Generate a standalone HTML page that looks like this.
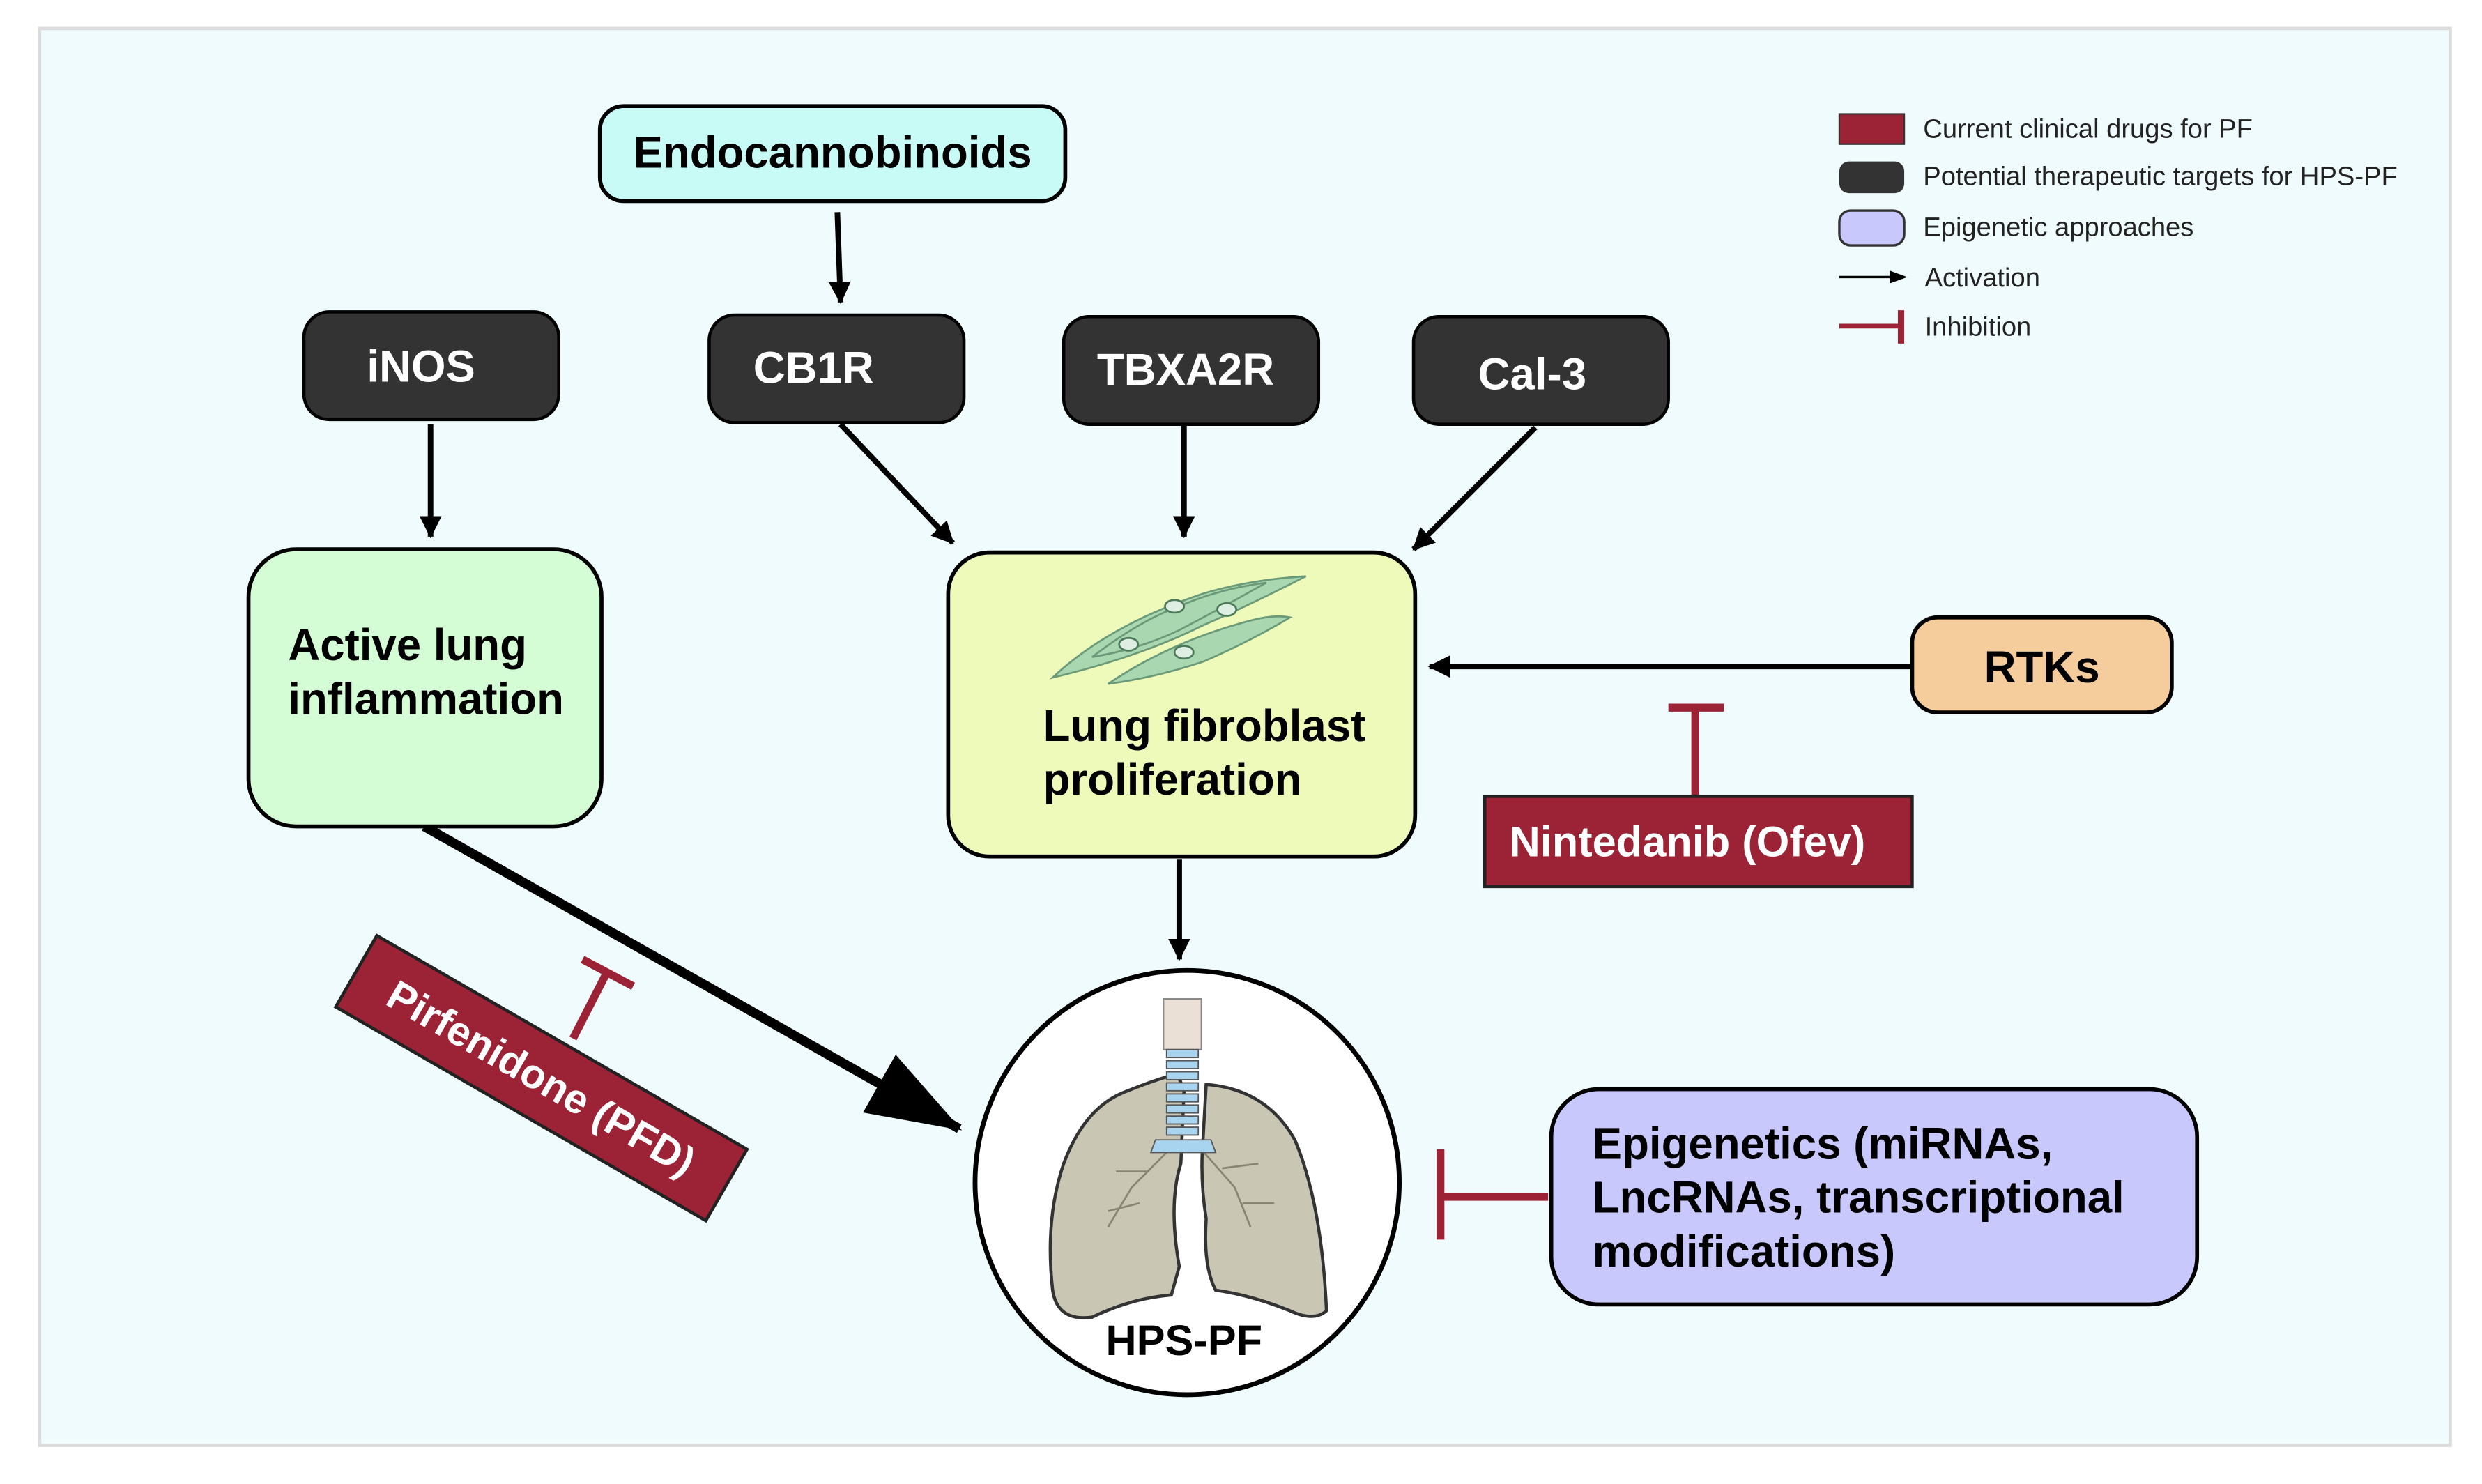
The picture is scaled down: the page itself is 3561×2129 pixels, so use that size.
<!DOCTYPE html>
<html><head><meta charset="utf-8"><style>
html,body{margin:0;padding:0;background:#fff;}
svg{display:block;}
text{font-family:"Liberation Sans",Arial,sans-serif;}
</style></head><body>
<svg width="3561" height="2129" viewBox="0 0 1568 937.4" preserveAspectRatio="none" xmlns="http://www.w3.org/2000/svg">
<defs>
<marker id="ah" viewBox="0 0 14 14" markerWidth="14" markerHeight="14" refX="13" refY="7" orient="auto" markerUnits="userSpaceOnUse"><path d="M0,0 L14,7 L0,14 Z" fill="#000"/></marker>
<marker id="ab" viewBox="0 0 60 42" markerWidth="60" markerHeight="42" refX="58" refY="21" orient="auto" markerUnits="userSpaceOnUse"><path d="M0,0 L60,21 L0,42 Z" fill="#000"/></marker>
</defs>
<rect x="0" y="0" width="1568" height="937.4" fill="#fff"/>
<rect x="25" y="18" width="1523" height="895" fill="#effbfc" stroke="#dcdcdc" stroke-width="2"/>

<!-- legend -->
<rect x="1162" y="72" width="41" height="19" fill="#9b2335" stroke="#333" stroke-width="1"/>
<rect x="1162" y="102" width="41" height="20" rx="6" fill="#333"/>
<rect x="1162" y="133" width="41" height="22" rx="7" fill="#c8c8fd" stroke="#333" stroke-width="1.5"/>
<line x1="1162" y1="175" x2="1196" y2="175" stroke="#000" stroke-width="1.5"/>
<path d="M1194,171 L1205,175 L1194,179 Z" fill="#000"/>
<line x1="1162" y1="206" x2="1200" y2="206" stroke="#9b2335" stroke-width="3"/>
<line x1="1201" y1="196" x2="1201" y2="217" stroke="#9b2335" stroke-width="4"/>
<g font-size="16.8" fill="#222">
<text x="1215" y="87">Current clinical drugs for PF</text>
<text x="1215" y="117">Potential therapeutic targets for HPS-PF</text>
<text x="1215" y="149">Epigenetic approaches</text>
<text x="1216" y="181">Activation</text>
<text x="1216" y="212">Inhibition</text>
</g>

<!-- connectors -->
<g stroke="#000" stroke-width="3.5" fill="none" marker-end="url(#ah)">
<line x1="529" y1="134" x2="531" y2="191"/>
<line x1="272" y1="268" x2="272" y2="339"/>
<line x1="531" y1="268" x2="602" y2="343"/>
<line x1="748" y1="269" x2="748" y2="339"/>
<line x1="970" y1="270" x2="893" y2="347"/>
<line x1="1208" y1="421" x2="903" y2="421"/>
<line x1="745" y1="543" x2="745" y2="606"/>
</g>
<line x1="268" y1="522" x2="606" y2="713" stroke="#000" stroke-width="6" marker-end="url(#ab)"/>

<!-- boxes -->
<rect x="379" y="67" width="294" height="60" rx="15" fill="#c8fbf5" stroke="#000" stroke-width="2.5"/>
<text x="526" y="106" font-size="28" font-weight="bold" text-anchor="middle">Endocannobinoids</text>

<g fill="#333" stroke="#000" stroke-width="2">
<rect x="192" y="197" width="161" height="68" rx="16"/>
<rect x="448" y="199" width="161" height="68" rx="16"/>
<rect x="672" y="200" width="161" height="68" rx="16"/>
<rect x="893" y="200" width="161" height="68" rx="16"/>
</g>
<g fill="#fff" font-size="28" font-weight="bold" text-anchor="middle">
<text x="266" y="241">iNOS</text>
<text x="514" y="242">CB1R</text>
<text x="749" y="243">TBXA2R</text>
<text x="968" y="246">Cal-3</text>
</g>

<rect x="157" y="347" width="223" height="175" rx="30" fill="#d5fdd5" stroke="#000" stroke-width="2.5"/>
<text x="182" y="417" font-size="28" font-weight="bold">Active lung</text>
<text x="182" y="451" font-size="28" font-weight="bold">inflammation</text>

<rect x="599" y="349" width="295" height="192" rx="26" fill="#eefaba" stroke="#000" stroke-width="2.5"/>
<text x="659" y="468" font-size="28" font-weight="bold">Lung fibroblast</text>
<text x="659" y="502" font-size="28" font-weight="bold">proliferation</text>
<!-- fibroblast cells -->
<g fill="#a9d8b0" stroke="#6b9a78" stroke-width="1.2">
<path d="M665,428 Q700,395 760,375 Q790,366 825,364 Q790,382 760,395 Q720,415 665,428 Z"/>
<path d="M700,432 Q740,405 790,392 Q805,388 815,390 Q790,405 760,418 Q730,428 700,432 Z"/>
<path d="M690,415 Q720,392 745,383 Q770,372 800,368 Q770,385 745,398 Q720,410 690,415 Z"/>
</g>
<g fill="#dfeee2" stroke="#4d7a5a" stroke-width="1.2">
<ellipse cx="742" cy="383" rx="6" ry="4"/><ellipse cx="775" cy="385" rx="6" ry="4"/>
<ellipse cx="713" cy="407" rx="6" ry="4"/><ellipse cx="748" cy="412" rx="6" ry="4"/>
</g>

<rect x="1208" y="390" width="164" height="60" rx="16" fill="#f5cc9c" stroke="#000" stroke-width="2.5"/>
<text x="1290" y="431" font-size="28" font-weight="bold" text-anchor="middle">RTKs</text>

<line x1="1071" y1="504" x2="1071" y2="447" stroke="#9b2335" stroke-width="5"/>
<line x1="1054" y1="447" x2="1089" y2="447" stroke="#9b2335" stroke-width="5"/>
<rect x="938" y="503" width="270" height="57" fill="#9b2335" stroke="#222" stroke-width="2"/>
<text x="1066" y="541" font-size="27" font-weight="bold" fill="#fff" text-anchor="middle">Nintedanib (Ofev)</text>

<!-- pirfenidone -->
<line x1="362" y1="656" x2="383" y2="615" stroke="#9b2335" stroke-width="5"/>
<line x1="368" y1="606" x2="400" y2="623" stroke="#9b2335" stroke-width="5"/>
<g transform="translate(342,681) rotate(30)">
<rect x="-135" y="-26" width="270" height="52" fill="#9b2335" stroke="#222" stroke-width="2"/>
<text x="0" y="9" font-size="26" font-weight="bold" fill="#fff" text-anchor="middle">Pirfenidone (PFD)</text>
</g>

<!-- circle -->
<circle cx="750" cy="747" r="134" fill="#fff" stroke="#000" stroke-width="3"/>
<!-- lungs -->
<path d="M738,680 Q745,676 748,690 L746,735 Q738,760 745,800 L740,818 Q715,820 690,832 Q668,835 665,815 Q660,770 672,735 Q685,700 710,690 Q730,682 738,680 Z" fill="#c9c6b4" stroke="#333" stroke-width="2"/>
<path d="M762,685 Q800,688 818,720 Q835,760 838,828 Q830,835 815,828 Q790,818 768,815 Q760,800 762,770 Q758,745 760,720 Z" fill="#c9c6b4" stroke="#333" stroke-width="2"/>
<g stroke="#8a8573" stroke-width="1.2" fill="none">
<path d="M740,725 L715,750 L700,775 M725,740 L705,740 M720,760 L700,765"/>
<path d="M758,725 L780,750 L790,775 M772,738 L795,735 M785,760 L805,760"/>
</g>
<rect x="735" y="631" width="24" height="32" fill="#eae0d6" stroke="#888" stroke-width="1"/>
<g fill="#a8d4f0" stroke="#555" stroke-width="0.8">
<rect x="737" y="663" width="20" height="5"/><rect x="737" y="670" width="20" height="5"/><rect x="737" y="677" width="20" height="5"/>
<rect x="737" y="684" width="20" height="5"/><rect x="737" y="691" width="20" height="5"/><rect x="737" y="698" width="20" height="5"/>
<rect x="737" y="705" width="20" height="5"/><rect x="737" y="712" width="20" height="5"/>
<path d="M730,720 L765,720 L768,728 L727,728 Z"/>
</g>
<text x="748" y="856" font-size="27" font-weight="bold" text-anchor="middle">HPS-PF</text>

<!-- epigenetics -->
<line x1="978" y1="756" x2="910" y2="756" stroke="#9b2335" stroke-width="5"/>
<line x1="910" y1="726" x2="910" y2="783" stroke="#9b2335" stroke-width="5"/>
<rect x="980" y="688" width="408" height="136" rx="30" fill="#c8c8fd" stroke="#000" stroke-width="2.5"/>
<g font-size="28" font-weight="bold">
<text x="1006" y="732">Epigenetics (miRNAs,</text>
<text x="1006" y="766">LncRNAs, transcriptional</text>
<text x="1006" y="800">modifications)</text>
</g>
</svg>
</body></html>
